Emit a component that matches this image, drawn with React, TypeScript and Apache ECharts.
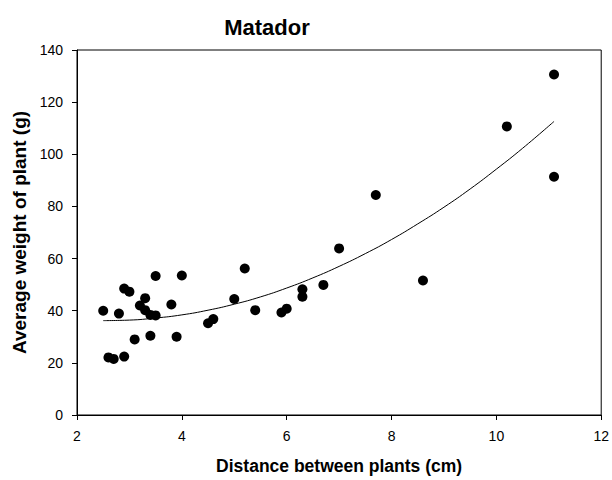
import React, { useEffect, useRef } from "react";
import * as echarts from "echarts";

const distance = [2.5, 2.6, 2.7, 2.9, 2.8, 2.9, 3.0, 3.1, 3.2, 3.3, 3.3, 3.4, 3.4, 3.5, 3.5, 3.8, 3.9, 4.0, 4.5, 4.6, 5.0, 5.2, 5.4, 5.9, 6.0, 6.3, 6.3, 6.7, 7.0, 7.7, 8.6, 10.2, 11.1, 11.1];
const weight = [40.0, 22.1, 21.5, 22.4, 38.9, 48.5, 47.3, 29.0, 42.0, 44.8, 40.2, 38.4, 30.4, 53.3, 38.2, 42.4, 30.0, 53.5, 35.2, 36.8, 44.5, 56.2, 40.2, 39.3, 40.8, 48.2, 45.4, 49.9, 63.9, 84.4, 51.6, 110.7, 130.6, 91.4];

const fitX = [2.5, 3, 3.5, 4, 4.5, 5, 5.5, 6, 6.5, 7, 7.5, 8, 8.5, 9, 9.5, 10, 10.5, 11.1];
const fitY = [36.2, 36.4, 37.2, 38.4, 40.2, 42.5, 45.3, 48.7, 52.6, 57.0, 61.9, 67.3, 73.3, 79.7, 86.7, 94.3, 102.3, 112.6];

const xTicks = [2, 4, 6, 8, 10, 12];
const yTicks = [0, 20, 40, 60, 80, 100, 120, 140];

export default function App() {
  const ref = useRef<HTMLDivElement>(null);
  useEffect(() => {
    if (!ref.current) return;
    const chart = echarts.init(ref.current, null, { renderer: "svg" });
    const font = "'Liberation Sans', Arial, sans-serif";
    chart.setOption({
      animation: false,
      backgroundColor: "#fff",
      title: {
        text: "Matador",
        left: 262,
        top: 11,
        textAlign: "center",
        textStyle: { fontFamily: font, fontWeight: "bold", fontSize: 22, color: "#000" },
      },
      grid: {
        left: 77,
        right: 9,
        top: 50,
        bottom: 62,
        show: true,
        borderColor: "#000",
        borderWidth: 1,
      },
      xAxis: {
        type: "value",
        min: xTicks[0],
        max: xTicks[xTicks.length - 1],
        interval: 2,
        name: "Distance between plants (cm)",
        nameLocation: "middle",
        nameGap: 42,
        nameTextStyle: { fontFamily: font, fontWeight: "bold", fontSize: 17.5, color: "#000" },
        axisLine: { lineStyle: { color: "#000", width: 1 } },
        axisTick: { show: true, inside: false, length: 5, lineStyle: { color: "#000" } },
        axisLabel: { fontFamily: font, fontSize: 14, color: "#000", margin: 14 },
        splitLine: { show: false },
      },
      yAxis: {
        type: "value",
        min: yTicks[0],
        max: yTicks[yTicks.length - 1],
        interval: 20,
        name: "Average weight of plant (g)",
        nameLocation: "middle",
        nameRotate: 90,
        nameGap: 46,
        nameTextStyle: { fontFamily: font, fontWeight: "bold", fontSize: 19, color: "#000" },
        axisLine: { show: true, lineStyle: { color: "#000", width: 1 } },
        axisTick: { show: true, inside: false, length: 5, lineStyle: { color: "#000" } },
        axisLabel: { fontFamily: font, fontSize: 14, color: "#000", margin: 14 },
        splitLine: { show: false },
      },
      series: [
        {
          type: "line",
          data: fitX.map((x, i) => [x, fitY[i]]),
          smooth: true,
          showSymbol: false,
          lineStyle: { color: "#000", width: 1 },
          silent: true,
        },
        {
          type: "scatter",
          data: distance.map((x, i) => [x, weight[i]]),
          symbol: "circle",
          symbolSize: 10,
          itemStyle: { color: "#000", opacity: 1 },
        },
      ],
    });
    return () => chart.dispose();
  }, []);
  return <div ref={ref} style={{ width: 612, height: 480, position: "absolute", left: 0, top: 0 }} />;
}
